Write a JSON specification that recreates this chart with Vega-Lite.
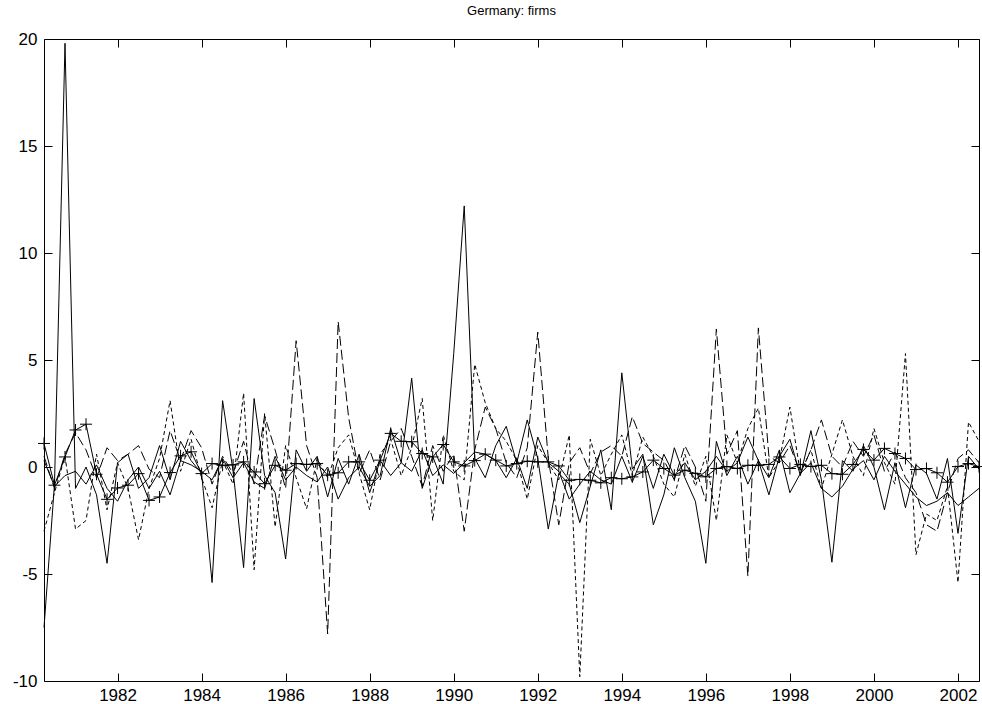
{
  "$schema": "https://vega.github.io/schema/vega-lite/v6.json",
  "width": 935,
  "height": 642,
  "autosize": {"type": "none"},
  "padding": {"left": 44, "top": 39, "right": 3, "bottom": 23},
  "background": "white",
  "title": {"text": "Germany: firms", "font": "Liberation Sans", "fontSize": 13, "fontWeight": "normal", "color": "black", "offset": 12},
  "config": {
    "view": {"stroke": "black", "strokeWidth": 1},
    "axis": {"grid": false, "domain": false, "ticks": true, "tickColor": "black", "tickSize": -8, "tickWidth": 1, "labelFont": "Liberation Sans", "labelFontSize": 17, "labelColor": "black", "labelFlush": false, "labelOverlap": false},
    "line": {"color": "black", "strokeWidth": 1}
  },
  "data": {
    "values": [
      {"t": 1980.25, "p": 1.1, "a": -7.5, "b": 0.3, "c": 0.5, "d": -3.0},
      {"t": 1980.5, "p": -0.85, "a": -0.8, "b": -0.9, "c": -1.0, "d": -1.2},
      {"t": 1980.75, "p": 0.47, "a": 19.8, "b": -0.4, "c": 0.6, "d": 0.5},
      {"t": 1981.0, "p": 1.73, "a": -1.0, "b": -0.2, "c": 1.6, "d": -2.9},
      {"t": 1981.25, "p": 2.0, "a": 0.0, "b": -0.8, "c": 0.8, "d": -2.5},
      {"t": 1981.5, "p": -0.34, "a": -1.3, "b": 0.1, "c": -0.5, "d": 0.6},
      {"t": 1981.75, "p": -1.51, "a": -4.5, "b": -1.0, "c": 0.9, "d": -2.0},
      {"t": 1982.0, "p": -0.98, "a": 0.2, "b": -1.6, "c": 0.3, "d": 0.2},
      {"t": 1982.25, "p": -0.85, "a": 0.6, "b": -0.6, "c": 0.6, "d": -1.0},
      {"t": 1982.5, "p": -0.31, "a": -1.0, "b": 0.0, "c": 1.0, "d": -3.4},
      {"t": 1982.75, "p": -1.56, "a": -0.5, "b": -1.0, "c": -0.1, "d": -1.0},
      {"t": 1983.0, "p": -1.4, "a": 1.0, "b": -0.2, "c": -0.5, "d": 0.4},
      {"t": 1983.25, "p": -0.26, "a": -0.6, "b": -1.3, "c": 1.7, "d": 3.1},
      {"t": 1983.5, "p": 0.52, "a": 1.2, "b": 0.3, "c": 0.3, "d": -0.2},
      {"t": 1983.75, "p": 0.71, "a": 0.3, "b": 0.1, "c": 1.7, "d": 1.3},
      {"t": 1984.0, "p": -0.31, "a": -0.3, "b": -0.2, "c": 0.9, "d": -0.5},
      {"t": 1984.25, "p": 0.16, "a": -5.4, "b": -0.6, "c": -0.8, "d": -1.9},
      {"t": 1984.5, "p": 0.08, "a": 3.1, "b": 0.4, "c": 0.5, "d": 0.3},
      {"t": 1984.75, "p": 0.1, "a": -0.2, "b": -0.5, "c": -0.3, "d": -0.8},
      {"t": 1985.0, "p": 0.24, "a": -4.7, "b": 0.2, "c": 1.2, "d": 3.45},
      {"t": 1985.25, "p": -0.23, "a": 3.2, "b": -0.7, "c": -0.8, "d": -4.8},
      {"t": 1985.5, "p": -0.78, "a": -0.4, "b": -1.0, "c": 2.4, "d": 2.5},
      {"t": 1985.75, "p": 0.08, "a": -1.2, "b": 0.5, "c": 0.8, "d": -2.8},
      {"t": 1986.0, "p": -0.15, "a": -4.3, "b": -0.6, "c": -1.0, "d": 1.0},
      {"t": 1986.25, "p": 0.16, "a": 0.8, "b": 0.0, "c": 5.9, "d": -0.5},
      {"t": 1986.5, "p": 0.12, "a": -0.2, "b": -0.4, "c": 1.0, "d": -1.95},
      {"t": 1986.75, "p": 0.16, "a": 0.5, "b": -0.7, "c": -0.5, "d": 0.4},
      {"t": 1987.0, "p": -0.38, "a": -1.4, "b": 0.0, "c": -7.8, "d": -0.5},
      {"t": 1987.25, "p": -0.27, "a": 0.4, "b": -1.5, "c": 6.8, "d": 0.9},
      {"t": 1987.5, "p": 0.24, "a": -0.8, "b": -0.5, "c": 2.3, "d": 1.5},
      {"t": 1987.75, "p": 0.24, "a": 0.6, "b": 0.0, "c": -0.3, "d": -0.3},
      {"t": 1988.0, "p": -0.62, "a": -1.2, "b": -0.9, "c": 0.8, "d": -2.0},
      {"t": 1988.25, "p": 0.32, "a": 0.3, "b": -0.4, "c": -0.6, "d": 0.6},
      {"t": 1988.5, "p": 1.57, "a": -0.4, "b": 1.8, "c": 1.2, "d": 1.3},
      {"t": 1988.75, "p": 1.2, "a": 0.2, "b": 0.2, "c": 1.8, "d": -0.4},
      {"t": 1989.0, "p": 1.18, "a": 4.15, "b": -0.2, "c": 0.5, "d": 0.9},
      {"t": 1989.25, "p": 0.63, "a": -1.0, "b": 0.8, "c": -0.9, "d": 3.2},
      {"t": 1989.5, "p": 0.47, "a": 0.5, "b": -0.4, "c": 1.0, "d": -2.5},
      {"t": 1989.75, "p": 1.05, "a": -0.8, "b": 0.1, "c": -0.2, "d": 1.5},
      {"t": 1990.0, "p": 0.24, "a": 5.3, "b": -0.3, "c": 0.6, "d": -0.2},
      {"t": 1990.25, "p": 0.05, "a": 12.2, "b": 0.2, "c": -3.0, "d": -0.6},
      {"t": 1990.5, "p": 0.3, "a": 0.4, "b": 0.7, "c": 0.8, "d": 4.8},
      {"t": 1990.75, "p": 0.6, "a": -0.5, "b": 0.6, "c": 2.8, "d": 3.0},
      {"t": 1991.0, "p": 0.32, "a": 1.0, "b": 0.3, "c": 1.8, "d": 1.8},
      {"t": 1991.25, "p": 0.05, "a": 1.9, "b": -0.5, "c": 0.2, "d": 1.2},
      {"t": 1991.5, "p": 0.16, "a": 0.2, "b": 0.4, "c": -0.5, "d": 0.3},
      {"t": 1991.75, "p": 0.27, "a": 2.2, "b": -1.0, "c": 0.9, "d": -1.5},
      {"t": 1992.0, "p": 0.24, "a": 0.4, "b": 1.4, "c": 6.3, "d": 1.0},
      {"t": 1992.25, "p": 0.24, "a": -2.9, "b": 0.2, "c": 0.4, "d": 0.2},
      {"t": 1992.5, "p": 0.05, "a": -0.3, "b": -0.2, "c": -2.7, "d": -0.6},
      {"t": 1992.75, "p": -0.62, "a": -0.8, "b": -1.5, "c": 0.2, "d": 1.5},
      {"t": 1993.0, "p": -0.58, "a": -2.6, "b": -0.8, "c": 0.9, "d": -9.8},
      {"t": 1993.25, "p": -0.62, "a": -0.9, "b": -0.2, "c": -0.3, "d": 1.3},
      {"t": 1993.5, "p": -0.74, "a": 0.8, "b": -0.6, "c": 0.7, "d": -0.4},
      {"t": 1993.75, "p": -0.5, "a": -2.0, "b": -0.8, "c": 1.0, "d": 0.6},
      {"t": 1994.0, "p": -0.55, "a": 4.4, "b": 0.5, "c": 0.5, "d": 1.5},
      {"t": 1994.25, "p": -0.46, "a": -0.1, "b": -0.7, "c": 2.35, "d": -0.4},
      {"t": 1994.5, "p": -0.23, "a": 0.6, "b": 0.5, "c": 1.1, "d": 1.4},
      {"t": 1994.75, "p": 0.32, "a": -2.7, "b": -1.0, "c": 0.7, "d": 0.5},
      {"t": 1995.0, "p": -0.07, "a": -1.3, "b": 0.6, "c": 0.3, "d": -0.8},
      {"t": 1995.25, "p": -0.38, "a": 0.9, "b": -0.4, "c": -0.6, "d": -1.4},
      {"t": 1995.5, "p": -0.15, "a": -0.5, "b": 0.2, "c": 1.0, "d": 0.6},
      {"t": 1995.75, "p": -0.3, "a": -1.6, "b": -0.6, "c": 0.0, "d": -0.9},
      {"t": 1996.0, "p": -0.46, "a": -4.5, "b": -0.2, "c": -1.6, "d": 0.5},
      {"t": 1996.25, "p": -0.07, "a": 1.2, "b": 0.5, "c": 6.45, "d": -2.5},
      {"t": 1996.5, "p": 0.02, "a": -0.4, "b": -0.2, "c": 0.6, "d": 1.5},
      {"t": 1996.75, "p": -0.07, "a": 0.5, "b": 0.2, "c": 1.7, "d": 0.2},
      {"t": 1997.0, "p": 0.08, "a": -0.8, "b": 1.4, "c": -5.1, "d": 1.8},
      {"t": 1997.25, "p": 0.08, "a": 0.3, "b": 0.3, "c": 6.5, "d": 2.75},
      {"t": 1997.5, "p": 0.12, "a": -1.3, "b": -0.5, "c": 0.5, "d": -0.5},
      {"t": 1997.75, "p": 0.47, "a": 0.5, "b": 0.8, "c": 0.2, "d": 0.3},
      {"t": 1998.0, "p": -0.07, "a": 1.3, "b": -1.2, "c": 1.0, "d": 2.8},
      {"t": 1998.25, "p": 0.12, "a": -0.4, "b": -0.3, "c": -0.3, "d": -0.3},
      {"t": 1998.5, "p": 0.02, "a": 1.7, "b": 0.2, "c": 0.8, "d": 0.8},
      {"t": 1998.75, "p": 0.08, "a": -0.6, "b": -1.0, "c": 2.2, "d": -1.0},
      {"t": 1999.0, "p": -0.31, "a": -4.45, "b": -1.4, "c": 0.5, "d": 0.6},
      {"t": 1999.25, "p": -0.34, "a": 0.3, "b": -0.9, "c": 0.0, "d": 2.2},
      {"t": 1999.5, "p": 0.12, "a": -0.2, "b": -0.1, "c": 1.2, "d": 0.5},
      {"t": 1999.75, "p": 0.82, "a": 1.0, "b": 0.3, "c": 0.5, "d": -0.4},
      {"t": 2000.0, "p": 0.32, "a": 0.0, "b": -0.6, "c": 1.5, "d": 1.8},
      {"t": 2000.25, "p": 0.87, "a": -2.0, "b": 0.5, "c": -0.2, "d": 0.2},
      {"t": 2000.5, "p": 0.63, "a": 0.2, "b": -0.2, "c": 0.7, "d": -0.8},
      {"t": 2000.75, "p": 0.4, "a": -1.9, "b": -0.8, "c": -0.5, "d": 5.3},
      {"t": 2001.0, "p": -0.12, "a": 0.1, "b": -1.4, "c": -1.2, "d": -4.1},
      {"t": 2001.25, "p": -0.07, "a": -0.3, "b": -1.8, "c": -2.7, "d": -2.2},
      {"t": 2001.5, "p": -0.27, "a": -1.5, "b": -1.6, "c": -3.0, "d": -2.5},
      {"t": 2001.75, "p": -0.71, "a": 0.4, "b": -1.2, "c": -1.2, "d": -0.9},
      {"t": 2002.0, "p": 0.02, "a": -3.1, "b": -1.8, "c": 0.4, "d": -5.4},
      {"t": 2002.25, "p": 0.16, "a": 0.5, "b": -1.4, "c": 0.8, "d": 2.1},
      {"t": 2002.5, "p": 0.02, "a": -0.1, "b": -1.0, "c": 0.2, "d": 1.2}
    ]
  },
  "layer": [
    {
      "mark": {"type": "line", "color": "black", "strokeWidth": 1},
      "encoding": {
        "x": {"field": "t", "type": "quantitative", "scale": {"domain": [1980.25, 2002.5], "nice": false, "zero": false},
              "axis": {"orient": "bottom", "title": null, "values": [1982, 1984, 1986, 1988, 1990, 1992, 1994, 1996, 1998, 2000, 2002], "labelExpr": "'' + datum.value", "labelPadding": 14}},
        "y": {"field": "a", "type": "quantitative", "scale": {"domain": [-10, 20], "nice": false, "zero": false},
              "axis": {"orient": "left", "title": null, "values": [-10, -5, 0, 5, 10, 15, 20], "labelExpr": "'' + datum.value", "labelPadding": 15}}
      }
    },
    {
      "mark": {"type": "line", "color": "black", "strokeWidth": 1},
      "encoding": {
        "x": {"field": "t", "type": "quantitative",
              "axis": {"orient": "top", "title": null, "labels": false, "values": [1982, 1984, 1986, 1988, 1990, 1992, 1994, 1996, 1998, 2000, 2002]}},
        "y": {"field": "b", "type": "quantitative",
              "axis": {"orient": "right", "title": null, "labels": false, "values": [-10, -5, 0, 5, 10, 15, 20]}}
      }
    },
    {
      "mark": {"type": "line", "color": "black", "strokeWidth": 1, "strokeDash": [10, 4]},
      "encoding": {
        "x": {"field": "t", "type": "quantitative", "axis": null},
        "y": {"field": "c", "type": "quantitative", "axis": null}
      }
    },
    {
      "mark": {"type": "line", "color": "black", "strokeWidth": 1, "strokeDash": [4, 3]},
      "encoding": {
        "x": {"field": "t", "type": "quantitative", "axis": null},
        "y": {"field": "d", "type": "quantitative", "axis": null}
      }
    },
    {
      "mark": {"type": "line", "color": "black", "strokeWidth": 1},
      "encoding": {
        "x": {"field": "t", "type": "quantitative", "axis": null},
        "y": {"field": "p", "type": "quantitative", "axis": null}
      }
    },
    {
      "mark": {"type": "point", "shape": "M-1,0H1M0,-1V1", "size": 144, "filled": false, "color": "black", "strokeWidth": 1, "opacity": 1},
      "encoding": {
        "x": {"field": "t", "type": "quantitative", "axis": null},
        "y": {"field": "p", "type": "quantitative", "axis": null}
      }
    }
  ],
  "resolve": {"axis": {"x": "independent", "y": "independent"}}
}
